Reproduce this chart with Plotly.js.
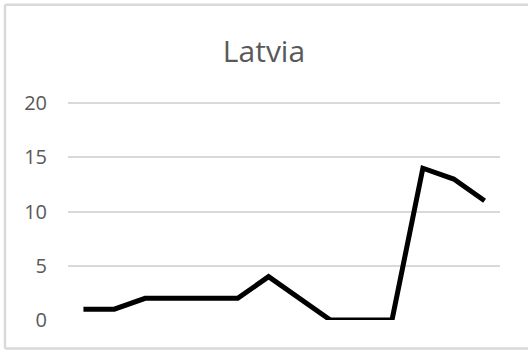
<!DOCTYPE html>
<html>
<head>
<meta charset="utf-8">
<script src="https://cdn.plot.ly/plotly-3.0.1.min.js"></script>
<style>
  html, body { margin: 0; padding: 0; background: #ffffff; }
  #chart { width: 528px; height: 353px; }
</style>
</head>
<body>
<div id="chart"></div>
<script>
// Series for Latvia, one value per period (axis labels are hidden)
const periods = [1, 2, 3, 4, 5, 6, 7, 8, 9, 10, 11, 12, 13, 14];
const values = [1, 1, 2, 2, 2, 2, 4, 2, 0, 0, 0, 14, 13, 11];
const yTicks = [0, 5, 10, 15, 20];
const chartTitle = 'Latvia';

const grey = '#595959';
const gridGrey = '#d9d9d9';

const trace = {
  x: periods.map(String),
  y: values,
  type: 'scatter',
  mode: 'lines',
  line: { color: '#000000', width: 5 },
  hoverinfo: 'skip'
};

// chart-area frame: left, top and bottom edges (the right edge runs off the page)
const frameLeft = -0.1458, frameRight = 1.2, frameBottom = -0.13, frameTop = 1.44;
const frameLine = { color: gridGrey, width: 2.5 };
const frame = [
  [frameLeft, frameBottom, frameLeft, frameTop],
  [frameLeft, frameTop, frameRight, frameTop],
  [frameLeft, frameBottom, frameRight, frameBottom]
].map(([x0, y0, x1, y1]) => ({
  type: 'line', xref: 'paper', yref: 'paper',
  x0, y0, x1, y1, line: frameLine, layer: 'below'
}));

const layout = {
  width: 528,
  height: 353,
  margin: { l: 68, r: 28, t: 101, b: 33, pad: 0 },
  paper_bgcolor: '#ffffff',
  plot_bgcolor: '#ffffff',
  showlegend: false,
  font: { family: 'Open Sans, sans-serif', color: grey },
  title: {
    text: chartTitle,
    font: { family: 'Open Sans, sans-serif', size: 30, color: grey },
    x: 0.5, xanchor: 'center',
    y: 0.855, yanchor: 'middle', yref: 'container'
  },
  xaxis: {
    type: 'category',
    range: [-0.5, periods.length - 0.5],
    showticklabels: false,
    showgrid: false,
    zeroline: false,
    showline: false,
    ticks: ''
  },
  yaxis: {
    // headroom above 20 so the top gridline is not dropped at the edge
    range: [0, 20.2],
    tickvals: yTicks,
    ticktext: yTicks.map(String),
    showgrid: true,
    gridcolor: gridGrey,
    gridwidth: 2,
    zeroline: false,
    showline: false,
    ticks: '',
    ticklabelstandoff: 20,
    tickfont: { family: 'Open Sans, sans-serif', size: 20, color: grey }
  },
  shapes: frame
};

Plotly.newPlot('chart', [trace], layout, { displayModeBar: false, staticPlot: true });
</script>
</body>
</html>
